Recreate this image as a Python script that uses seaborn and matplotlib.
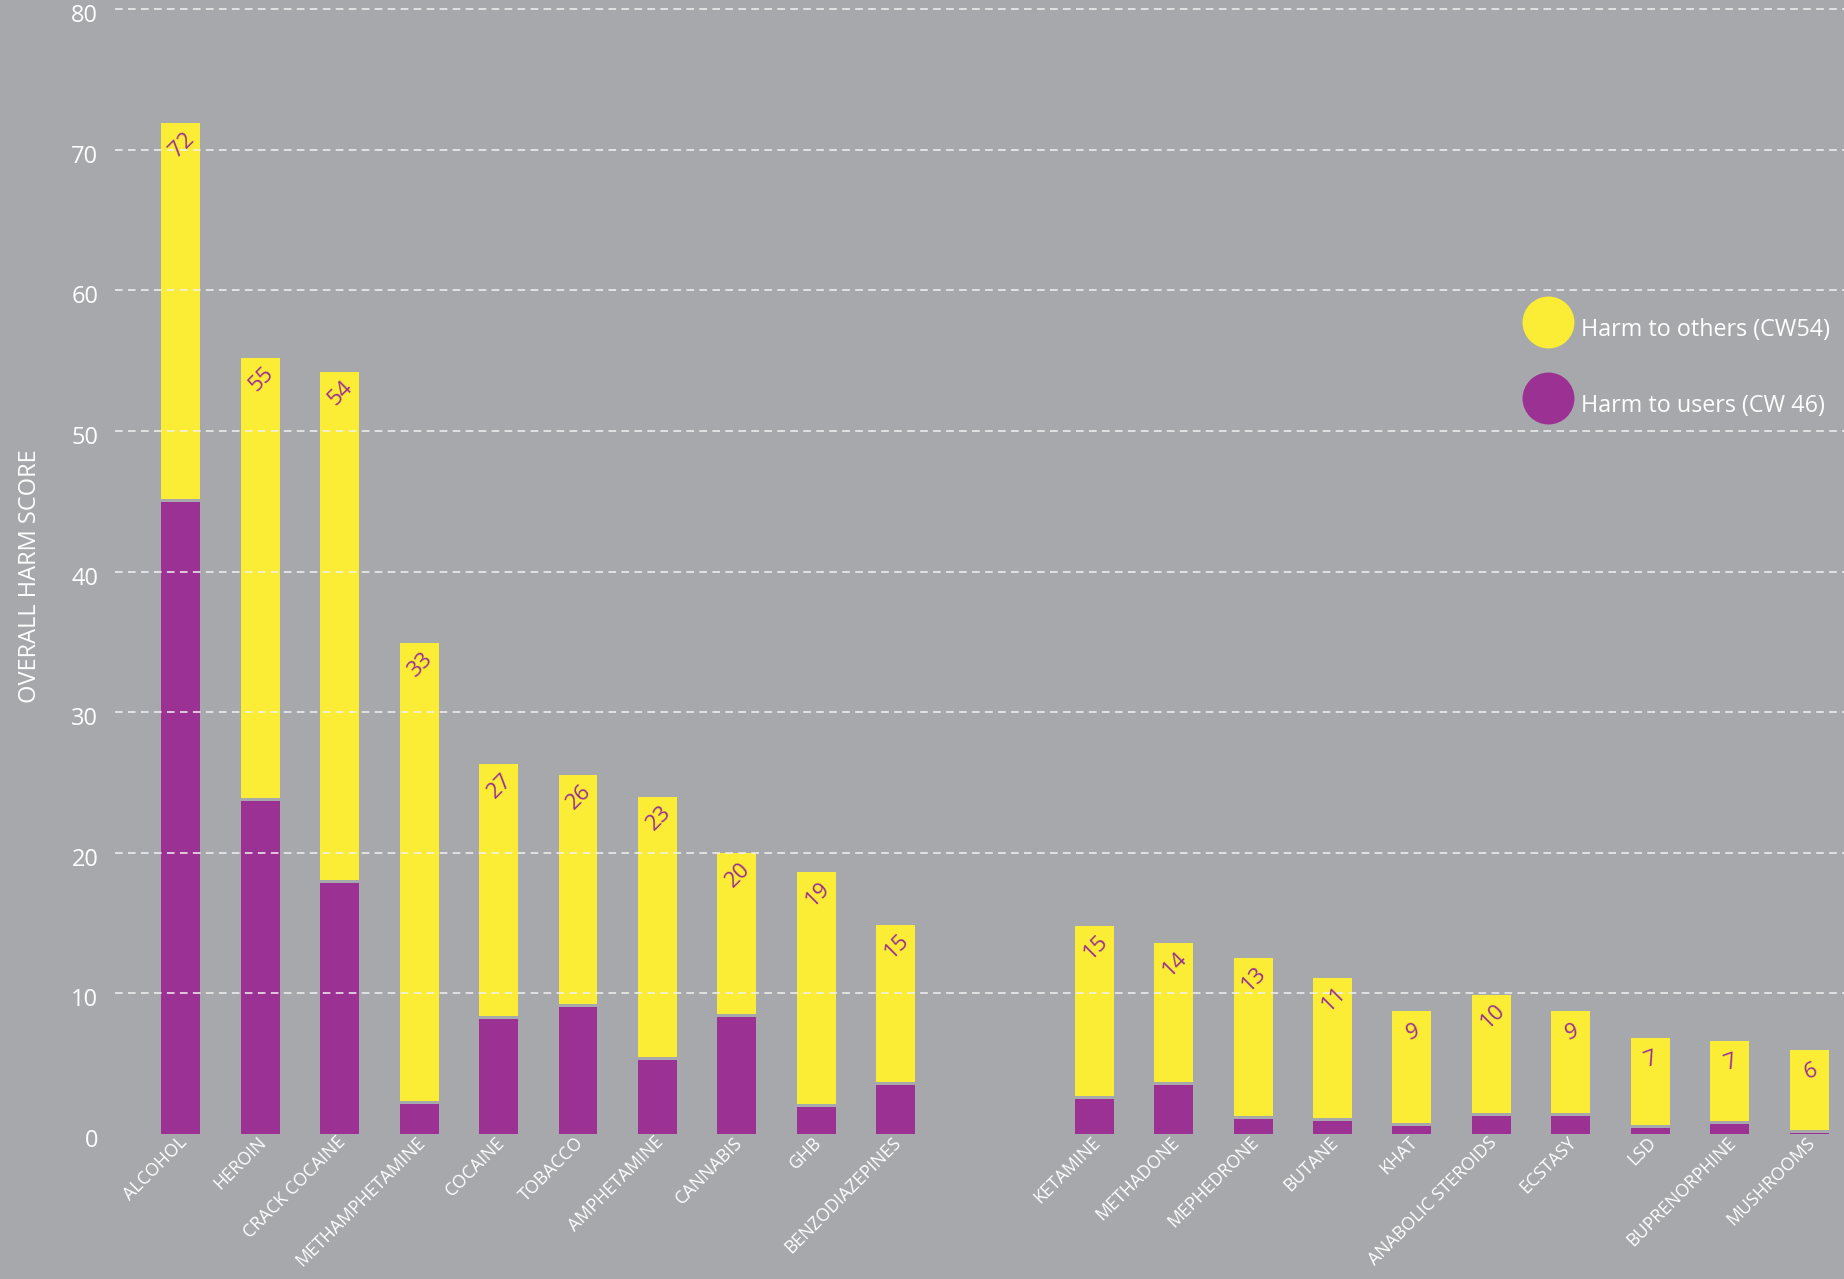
import matplotlib
matplotlib.use("Agg")
import matplotlib.pyplot as plt
import matplotlib.transforms as mtransforms
from matplotlib.lines import Line2D
import numpy as np
import pandas as pd
import seaborn as sns

# ---------------- data ----------------
drugs = ["ALCOHOL", "HEROIN", "CRACK COCAINE", "METHAMPHETAMINE", "COCAINE",
         "TOBACCO", "AMPHETAMINE", "CANNABIS", "GHB", "BENZODIAZEPINES",
         "KETAMINE", "METHADONE", "MEPHEDRONE", "BUTANE", "KHAT",
         "ANABOLIC STEROIDS", "ECSTASY", "LSD", "BUPRENORPHINE", "MUSHROOMS"]
drug_group = [0] * 10 + [1] * 10
harm_users = [44.95, 23.7, 17.85, 2.13, 8.18, 9.03, 5.26, 8.32, 1.92, 3.48,
              2.49, 3.49, 1.07, 0.92, 0.57, 1.28, 1.28, 0.43, 0.71, 0.05]
harm_others = [26.95, 31.5, 36.35, 32.77, 18.12, 16.47, 18.74, 11.64, 16.68, 11.42,
               12.3, 10.09, 11.45, 10.18, 8.18, 8.61, 7.47, 6.37, 5.9, 5.92]
score_labels = ["72", "55", "54", "33", "27", "26", "23", "20", "19", "15",
                "15", "14", "13", "11", "9", "10", "9", "7", "7", "6"]
legend_labels = ["Harm to others (CW54)", "Harm to users (CW 46)"]
y_ticks = [0, 10, 20, 30, 40, 50, 60, 70, 80]
y_title = "OVERALL HARM SCORE"

# ---------------- style ----------------
BG = "#A7A8AC"
YELLOW = "#FBEC35"
PURPLE = "#9A3193"
GROUP_GAP = 1.5      # extra slots between the two groups
SEP = 0.22           # thin background gap between stacked segments
BAR_W = 0.49

sns.set_theme(style="white")
plt.rcParams["font.family"] = ["Open Sans", "DejaVu Sans"]

df = pd.DataFrame({
    "drug": drugs,
    "group": drug_group,
    "users": harm_users,
    "others": harm_others,
})
df["pos"] = np.arange(len(df)) + df["group"] * GROUP_GAP
df["total"] = df["users"] + df["others"]
df["sep"] = df["users"] + SEP

W, H = 1844, 1279
fig = plt.figure(figsize=(W / 100, H / 100), dpi=100, facecolor=BG)
ax_bottom_px = 1134
px_per_unit = 14.06
ylim_top = 80.15
ax = fig.add_axes([115 / W, (H - ax_bottom_px) / H, 1 - 115 / W,
                   ylim_top * px_per_unit / H])
ax.set_facecolor(BG)

common = dict(native_scale=True, width=BAR_W, saturation=1, errorbar=None,
              linewidth=0, edgecolor="none", ax=ax)
sns.barplot(data=df, x="pos", y="total", color=YELLOW, **common)
sns.barplot(data=df, x="pos", y="sep", color=BG, **common)
sns.barplot(data=df, x="pos", y="users", color=PURPLE, **common)

# value labels
for p, tot, lab in zip(df["pos"], df["total"], score_labels):
    ax.annotate(lab, (p, tot), xytext=(1, -15.5), textcoords="offset points",
                ha="center", va="center", rotation=45 if len(lab) > 1 else 20,
                color=PURPLE, fontsize=16, zorder=4)

ax.set_xlim(-0.83, df["pos"].iloc[-1] + 0.44)
ax.set_ylim(0, ylim_top)

# axes ticks
ax.set_xticks(df["pos"])
ax.set_xticklabels(df["drug"], rotation=45, ha="right", va="center",
                   rotation_mode="anchor", color="white", fontsize=12.8)
ax.tick_params(axis="x", length=0, pad=4)
shift = mtransforms.ScaledTranslation(3 / 100, 0, fig.dpi_scale_trans)
for lbl in ax.get_xticklabels():
    lbl.set_transform(lbl.get_transform() + shift)

ax.set_yticks(y_ticks)
ax.set_yticklabels([str(t) for t in y_ticks], color="white", fontsize=17)
ax.tick_params(axis="y", length=0, pad=12)
yshift = mtransforms.ScaledTranslation(0, -4 / 100, fig.dpi_scale_trans)
for lbl in ax.get_yticklabels():
    lbl.set_transform(lbl.get_transform() + yshift)

ax.set_xlabel("")
ax.set_ylabel(y_title, color="white", fontsize=17)
ax.yaxis.set_label_coords(-0.0422, 0.495)

# grid on top of bars
ax.set_axisbelow(False)
ax.yaxis.grid(True, color="#F2F2F2", linestyle=(0, (5, 3.5)), linewidth=1.1)
ax.xaxis.grid(False)
ax.yaxis.get_gridlines()[0].set_visible(False)

for s in ax.spines.values():
    s.set_visible(False)

# legend
fs = 16.8
fs_px = fs * 100 / 72
handles = [Line2D([], [], marker="o", linestyle="none", markersize=37.4,
                  markerfacecolor=c, markeredgewidth=0) for c in (YELLOW, PURPLE)]
ax.legend(handles, legend_labels, loc="upper left",
          bbox_to_anchor=(1521.7 / W, 1 - 308.5 / H), bbox_transform=fig.transFigure,
          frameon=False, fontsize=fs, labelcolor="white",
          handlelength=52 / fs_px, handleheight=52 / fs_px,
          handletextpad=0.33, labelspacing=1.57, borderpad=0, borderaxespad=0)

fig.savefig("out.png", dpi=100, facecolor=BG)
